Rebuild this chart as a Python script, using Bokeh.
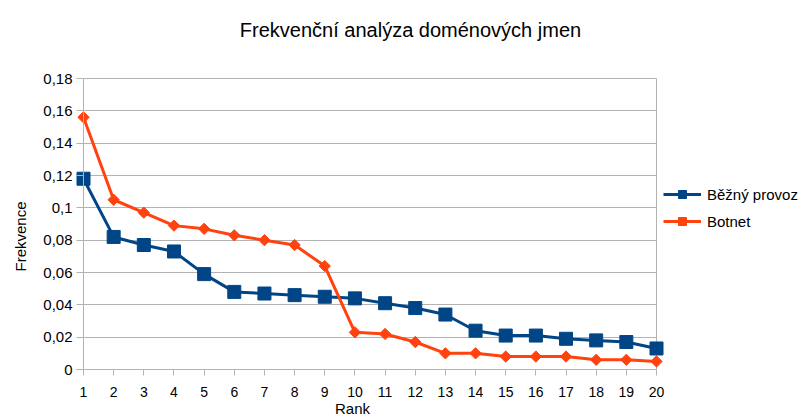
import math
from bokeh.plotting import figure
from bokeh.models import Range1d, FixedTicker, Legend, LegendItem, LinearAxis, Grid, Label
from bokeh.embed import file_html
from bokeh.resources import INLINE

# ---- data ----
ranks = [1, 2, 3, 4, 5, 6, 7, 8, 9, 10, 11, 12, 13, 14, 15, 16, 17, 18, 19, 20]
bezny_provoz = [0.118, 0.082, 0.077, 0.073, 0.059, 0.048, 0.047, 0.046, 0.045, 0.044,
                0.041, 0.038, 0.034, 0.024, 0.021, 0.021, 0.019, 0.018, 0.017, 0.013]
botnet = [0.156, 0.105, 0.097, 0.089, 0.087, 0.083, 0.080, 0.077, 0.064, 0.023,
          0.022, 0.017, 0.010, 0.010, 0.008, 0.008, 0.008, 0.006, 0.006, 0.005]
y_ticks = [0, 0.02, 0.04, 0.06, 0.08, 0.1, 0.12, 0.14, 0.16, 0.18]
y_tick_labels = ["0", "0,02", "0,04", "0,06", "0,08", "0,1", "0,12", "0,14", "0,16", "0,18"]
series_names = ["Běžný provoz", "Botnet"]
title_text = "Frekvenční analýza doménových jmen"
x_label = "Rank"
y_label = "Frekvence"

FONT = "Liberation Sans"
GRID = "#b3b3b3"
BLUE = "#004586"
ORANGE = "#ff420e"

# ---- layout: the plot frame covers the whole canvas ----
W, H = 800, 418
X_FIRST_PX, X_LAST_PX = 83, 656      # pixel column of first / last rank
Y_ZERO_PX, Y_TOP_PX = 369, 78        # pixel row of 0 / top tick
ppx = (X_LAST_PX - X_FIRST_PX) / (ranks[-1] - ranks[0])
ppy = (Y_ZERO_PX - Y_TOP_PX) / (y_ticks[-1] - y_ticks[0])
x_start = ranks[0] - X_FIRST_PX / ppx
x_end = ranks[0] + (W - X_FIRST_PX) / ppx
y_start = y_ticks[0] - (H - Y_ZERO_PX) / ppy
y_end = y_ticks[0] + Y_ZERO_PX / ppy

p = figure(width=W, height=H, output_backend="svg", toolbar_location=None,
           x_range=Range1d(x_start, x_end), y_range=Range1d(y_start, y_end),
           x_axis_location=None, y_axis_location=None,
           min_border=0, min_border_left=0, min_border_right=0,
           min_border_top=0, min_border_bottom=0)
p.outline_line_color = None
p.background_fill_color = "white"
p.border_fill_color = "white"
for g in p.grid:
    g.visible = False

# horizontal grid lines between first and last rank
p.add_layout(Grid(dimension=1, ticker=FixedTicker(ticks=y_ticks),
                  cross_bounds=(ranks[0], ranks[-1]), grid_line_color=GRID))
# right border of the plot area
p.add_layout(Grid(dimension=0, ticker=FixedTicker(ticks=[ranks[-1]]),
                  cross_bounds=(y_ticks[0], y_ticks[-1]), grid_line_color=GRID))

# x axis at y = 0
xa = LinearAxis(fixed_location=y_ticks[0], ticker=FixedTicker(ticks=ranks),
                bounds=(ranks[0], ranks[-1]),
                axis_line_color=GRID, major_tick_line_color=GRID, minor_tick_line_color=None,
                major_tick_out=6, major_tick_in=0, major_label_standoff=11,
                major_label_text_font=FONT, major_label_text_font_size="14px",
                major_label_text_color="#000000")
p.add_layout(xa, "below")

# y axis at rank 1
ya = LinearAxis(fixed_location=ranks[0], ticker=FixedTicker(ticks=y_ticks),
                bounds=(y_ticks[0], y_ticks[-1]),
                major_label_overrides=dict(zip(y_ticks, y_tick_labels)),
                axis_line_color=GRID, major_tick_line_color=GRID, minor_tick_line_color=None,
                major_tick_out=7, major_tick_in=0, major_label_standoff=4,
                major_label_text_font=FONT, major_label_text_font_size="15px",
                major_label_text_color="#000000")
p.add_layout(ya, "left")

# texts
p.add_layout(Label(x=410, y=H - 29, x_units="screen", y_units="screen", text=title_text,
                   text_align="center", text_baseline="alphabetic",
                   text_font=FONT, text_font_size="20px", text_color="#000000"))
p.add_layout(Label(x=352, y=H - 408, x_units="screen", y_units="screen", text=x_label,
                   text_align="center", text_baseline="middle",
                   text_font=FONT, text_font_size="15px", text_color="#000000"))
p.add_layout(Label(x=20, y=H - 236, x_units="screen", y_units="screen", text=y_label,
                   angle=math.pi / 2, text_align="center", text_baseline="middle",
                   text_font=FONT, text_font_size="15px", text_color="#000000"))

# series
l1 = p.line(ranks, bezny_provoz, line_color=BLUE, line_width=3)
s1 = p.scatter(ranks, bezny_provoz, marker="square", size=13, fill_color=BLUE, line_color=BLUE)
l2 = p.line(ranks, botnet, line_color=ORANGE, line_width=3)
s2 = p.scatter(ranks, botnet, marker="square", angle=math.pi / 4, size=8,
               fill_color=ORANGE, line_color=ORANGE)

legend = Legend(items=[LegendItem(label=series_names[0], renderers=[l1, s1]),
                       LegendItem(label=series_names[1], renderers=[l2, s2])],
                location=(663, H - 231), padding=0, margin=0,
                border_line_color=None, background_fill_alpha=0,
                glyph_width=38, glyph_height=20, label_height=20, spacing=7,
                label_standoff=6, label_text_font=FONT, label_text_font_size="15px",
                label_text_color="#000000")
p.add_layout(legend)

open("out.html", "w").write(file_html(p, INLINE))
